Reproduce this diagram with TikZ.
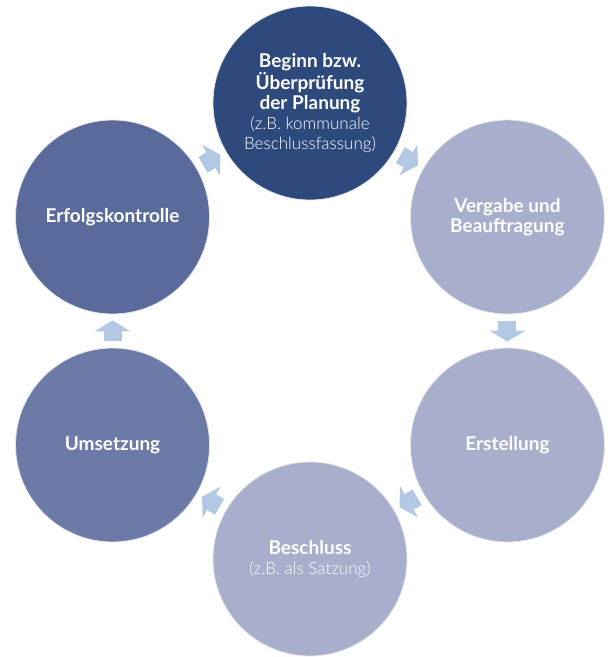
\documentclass[tikz,border=0pt]{standalone}
\usepackage{fontspec}
\setmainfont{Lato}
\IfFontExistsTF{Lato Light}{\newfontfamily\lightlato{Lato Light}}{\newfontfamily\lightlato{Lato}}
\usetikzlibrary{arrows.meta}
\definecolor{navy}{HTML}{2E4A7D}
\definecolor{steel}{HTML}{5A6A9A}
\definecolor{slate}{HTML}{6C7AA7}
\definecolor{lilac}{HTML}{A7AFCC}
\definecolor{flow}{HTML}{B3C8E5}
\newcommand{\stepsub}{\lightlato\mdseries\fontsize{17}{18}\selectfont}

\begin{document}
\begin{tikzpicture}[x=1pt,y=1pt,
  stage/.style={circle,draw=gray!20,line width=0.8pt,minimum size=194pt,inner sep=0pt,align=center,text=white,font=\fontsize{19}{20}\selectfont\bfseries},
  ar/.style={draw=flow,line width=18pt,-{Triangle[length=11pt,width=36pt,line width=0pt]},shorten <=7pt,shorten >=6pt}
]
\useasboundingbox (-310,-326) rectangle (300,331);
% the six steps on a ring
\node[stage,fill=navy] (plan) at (90:228) {Beginn bzw.\\Überprüfung\\der Planung\\\stepsub(z.B. kommunale\\\stepsub Beschlussfassung)};
\node[stage,fill=lilac] (vergabe) at (30:228) {Vergabe und\\Beauftragung};
\node[stage,fill=lilac] (erst) at (-30:228) {Erstellung};
\node[stage,fill=lilac] (beschluss) at (-90:228) {Beschluss\\\stepsub(z.B. als Satzung)};
\node[stage,fill=slate] (umsetz) at (-150:228) {Umsetzung};
\node[stage,fill=steel] (kontrolle) at (150:228) {Erfolgskontrolle};
% block arrows between neighbours
\draw[ar] (plan)--(vergabe); \draw[ar] (vergabe)--(erst);
\draw[ar] (erst)--(beschluss); \draw[ar] (beschluss)--(umsetz);
\draw[ar] (umsetz)--(kontrolle); \draw[ar] (kontrolle)--(plan);
\end{tikzpicture}
\end{document}
